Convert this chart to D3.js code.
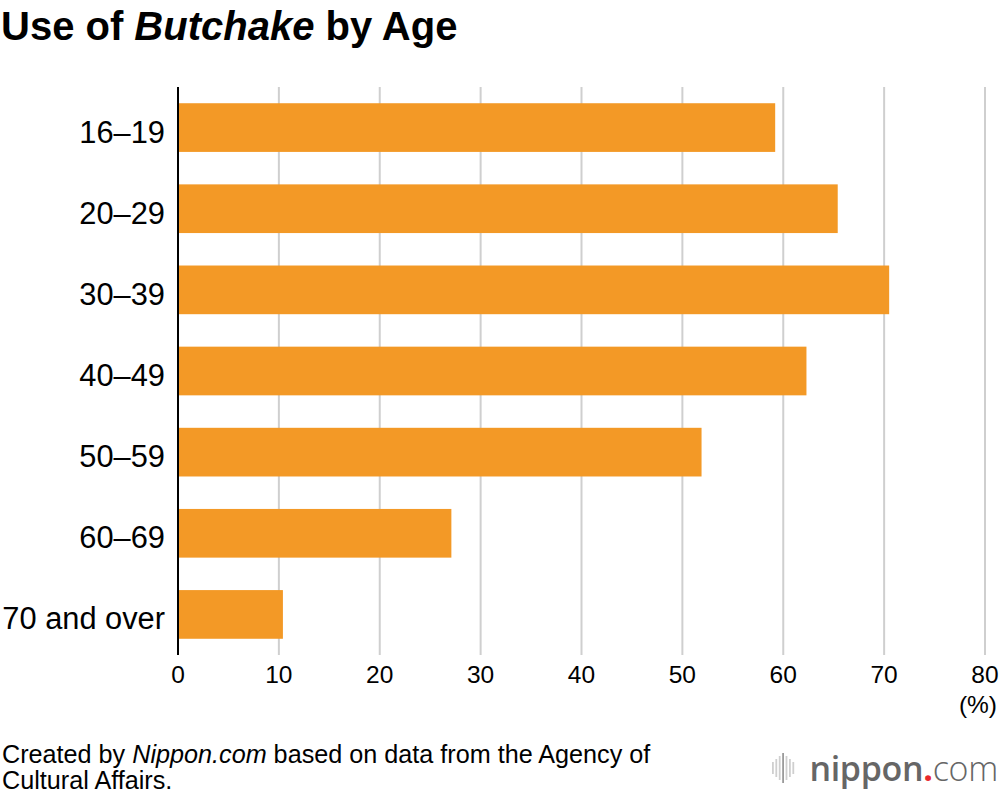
<!DOCTYPE html>
<html>
  <head>
    <meta charset="utf-8">
    <title>Use of Butchake by Age</title>
    <style media="screen">
      body {margin:0; background:#fff}
      text {font-family: "Liberation Sans", Arial, sans-serif; fill:#000}
    </style>
  </head>
  <body>
    <script src="https://cdn.jsdelivr.net/npm/d3@7/dist/d3.min.js"></script>
    <script type="text/javascript">

    const ages = ['16–19', '20–29', '30–39', '40–49', '50–59', '60–69', '70 and over']
    const shares = [59.2, 65.4, 70.5, 62.3, 51.9, 27.1, 10.4]
    const ticks = [0, 10, 20, 30, 40, 50, 60, 70, 80]

    const w = 1000, h = 794

    const svg = d3.select('body').append('svg')
      .attr('width', w)
      .attr('height', h)

    // title, with the word in italics
    const title = svg.append('text')
      .attr('x', 1)
      .attr('y', 40)
      .style('font-size', '40px')
      .style('font-weight', 'bold')
    title.append('tspan').text('Use of ')
    title.append('tspan').style('font-style', 'italic').text('Butchake')
    title.append('tspan').text(' by Age')

    const x = d3.scaleLinear().domain([0, 80]).range([178, 985])
    const y = d3.scaleBand().domain(ages).range([87, 655])
      .paddingInner(0.4).paddingOuter(0.2)

    // grid
    svg.append('g')
      .selectAll('line')
      .data(ticks.slice(1))
      .join('line')
      .attr('x1', d => x(d)).attr('x2', d => x(d))
      .attr('y1', y.range()[0]).attr('y2', y.range()[1])
      .attr('stroke', '#cfcfcf')
      .attr('stroke-width', 2)

    svg.append('g')
      .selectAll('rect')
      .data(shares)
      .join('rect')
      .attr('x', x(0))
      .attr('y', (d, i) => y(ages[i]))
      .attr('width', d => x(d) - x(0))
      .attr('height', y.bandwidth())
      .attr('fill', '#f39926')

    // y axis line
    svg.append('line')
      .attr('x1', x(0)).attr('x2', x(0))
      .attr('y1', y.range()[0]).attr('y2', y.range()[1])
      .attr('stroke', '#000')
      .attr('stroke-width', 2)

    svg.append('g')
      .selectAll('text')
      .data(ages)
      .join('text')
      .attr('x', 165)
      .attr('y', d => y(d) + y.bandwidth() / 2 + 15)
      .attr('text-anchor', 'end')
      .style('font-size', '30.8px')
      .text(d => d)

    svg.append('g')
      .selectAll('text')
      .data(ticks)
      .join('text')
      .attr('x', d => x(d))
      .attr('y', 683)
      .attr('text-anchor', 'middle')
      .style('font-size', '24.5px')
      .text(d => d)

    svg.append('text')
      .attr('x', 997).attr('y', 713)
      .attr('text-anchor', 'end')
      .style('font-size', '24.5px')
      .text('(%)')

    // source note
    const note = svg.append('text').style('font-size', '25.2px')
    const l1 = note.append('tspan').attr('x', 2).attr('y', 763)
    l1.append('tspan').text('Created by ')
    l1.append('tspan').style('font-style', 'italic').text('Nippon.com')
    l1.append('tspan').text(' based on data from the Agency of')
    note.append('tspan').attr('x', 2).attr('y', 789).text('Cultural Affairs.')

    // logo
    const logo = svg.append('g')
    const waves = [12, 18, 24, 30, 24, 18, 12]
    logo.selectAll('rect')
      .data(waves)
      .join('rect')
      .attr('x', (d, i) => 772 + i * 3.4)
      .attr('y', d => 768 - d / 2)
      .attr('width', 1.8)
      .attr('height', d => d)
      .attr('fill', (d, i) => i === 3 ? '#9a9a9a' : '#cfcfcf')

    const brand = logo.append('text')
      .attr('x', 998).attr('y', 781)
      .attr('text-anchor', 'end')
      .style('font-family', '"Open Sans", sans-serif')
      .style('font-size', '34px')
      .style('letter-spacing', '-0.3px')
    brand.append('tspan').style('font-weight', 600).style('fill', '#666').text('nippon')
    brand.append('tspan').style('fill', '#e8282d').style('font-weight', 700).text('.')
    brand.append('tspan').style('font-weight', 300).style('fill', '#666').text('com')
    </script>
  </body>
</html>
